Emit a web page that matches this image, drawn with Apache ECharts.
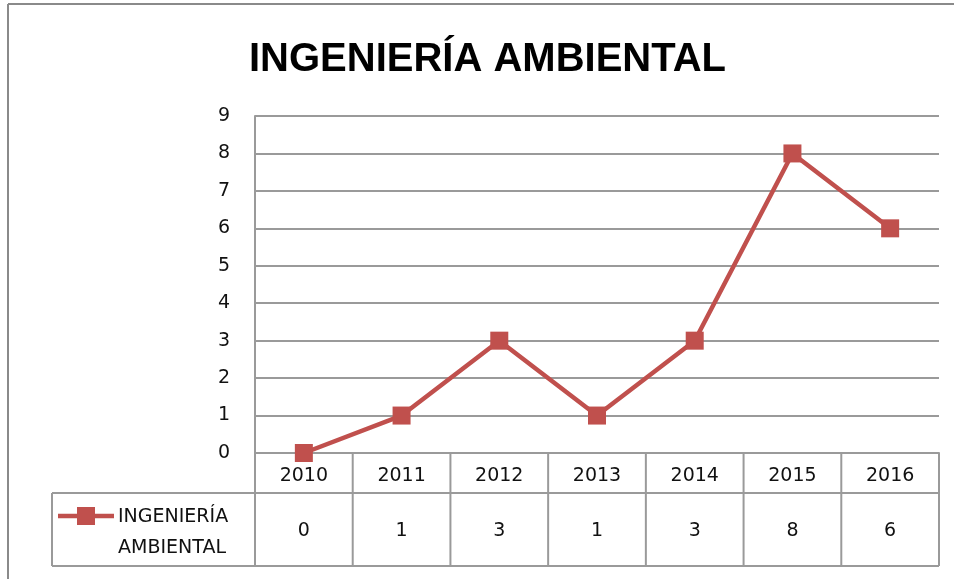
<!DOCTYPE html>
<html>
<head>
<meta charset="utf-8">
<script src="https://cdn.jsdelivr.net/npm/echarts@6/dist/echarts.min.js"></script>
<style>
  html, body { margin: 0; padding: 0; background: #fff; }
  #chart { width: 954px; height: 579px; }
</style>
</head>
<body>
<div id="chart"></div>
<script>
var seriesName = 'INGENIERÍA AMBIENTAL';
var legendLines = ['INGENIERÍA', 'AMBIENTAL'];
var years = ['2010', '2011', '2012', '2013', '2014', '2015', '2016'];
var values = [0, 1, 3, 1, 3, 8, 6];
var yMin = 0, yMax = 9, yStep = 1;

var red = '#C0504D';
var gridGray = '#9a9a9a';
var textColor = '#111';
var labelFont = 'DejaVu Sans';

var chart = echarts.init(document.getElementById('chart'));

var option = {
  animation: false,
  title: {
    text: seriesName,
    left: 244,
    top: 35,
    textStyle: { fontFamily: 'Liberation Sans', fontWeight: 'bold', fontSize: 40, color: '#000' }
  },
  grid: { left: 255, right: 15, top: 116, bottom: 126 },
  xAxis: {
    type: 'category',
    data: years,
    boundaryGap: true,
    axisLine: { lineStyle: { color: gridGray, width: 2 } },
    axisTick: { show: false },
    axisLabel: { margin: 14, fontFamily: labelFont, fontSize: 19, color: textColor }
  },
  yAxis: {
    type: 'value',
    min: yMin, max: yMax, interval: yStep,
    axisLine: { show: true, lineStyle: { color: gridGray, width: 2 } },
    axisTick: { show: false },
    axisLabel: { margin: 25, fontFamily: labelFont, fontSize: 19, color: textColor },
    splitLine: { lineStyle: { color: gridGray, width: 2 } }
  },
  series: [{
    name: seriesName,
    type: 'line',
    data: values,
    symbol: 'rect',
    symbolSize: 18,
    lineStyle: { color: red, width: 4.5 },
    itemStyle: { color: red },
    z: 5
  }]
};
chart.setOption(option);

// data table under the plot, built from the same arrays
function buildTable() {
  var c0 = chart.convertToPixel({ xAxisIndex: 0 }, years[0]);
  var c1 = chart.convertToPixel({ xAxisIndex: 0 }, years[1]);
  var band = c1 - c0;
  var top = chart.convertToPixel({ yAxisIndex: 0 }, yMin);
  var rowMid = top + 40;
  var bottom = top + 113;
  var legendLeft = 52;
  var right = c0 - band / 2 + band * years.length;
  var els = [];
  var line = function (x1, y1, x2, y2) {
    els.push({ type: 'line', shape: { x1: x1, y1: y1, x2: x2, y2: y2 },
      style: { stroke: gridGray, lineWidth: 2 }, silent: true });
  };
  for (var i = 0; i <= years.length; i++) {
    var bx = c0 - band / 2 + band * i;
    line(bx, top, bx, bottom);
  }
  line(legendLeft, rowMid, right, rowMid);
  line(legendLeft, bottom, right, bottom);
  line(legendLeft, rowMid, legendLeft, bottom);

  values.forEach(function (v, i) {
    var cx = chart.convertToPixel({ xAxisIndex: 0 }, years[i]);
    els.push({ type: 'text', x: cx, y: (rowMid + bottom) / 2 + 2, silent: true,
      style: { text: String(v), align: 'center', verticalAlign: 'middle',
        font: '19px "' + labelFont + '"', fill: textColor } });
  });

  // legend key
  var ky = rowMid + 23;
  els.push({ type: 'line', shape: { x1: 58, y1: ky, x2: 114, y2: ky },
    style: { stroke: red, lineWidth: 4.5 }, silent: true });
  els.push({ type: 'rect', shape: { x: 77, y: ky - 9, width: 18, height: 18 },
    style: { fill: red }, silent: true });
  legendLines.forEach(function (t, i) {
    els.push({ type: 'text', x: 118, y: ky + 1 + i * 31, silent: true,
      style: { text: t, align: 'left', verticalAlign: 'middle',
        font: '19px "' + labelFont + '"', fill: textColor } });
  });

  // outer chart frame
  els.push({ type: 'line', shape: { x1: 8, y1: 4, x2: 954, y2: 4 },
    style: { stroke: '#8a8a8a', lineWidth: 2 }, silent: true });
  els.push({ type: 'line', shape: { x1: 8, y1: 4, x2: 8, y2: 579 },
    style: { stroke: '#8a8a8a', lineWidth: 2 }, silent: true });

  chart.setOption({ graphic: els });
}
buildTable();
</script>
</body>
</html>
